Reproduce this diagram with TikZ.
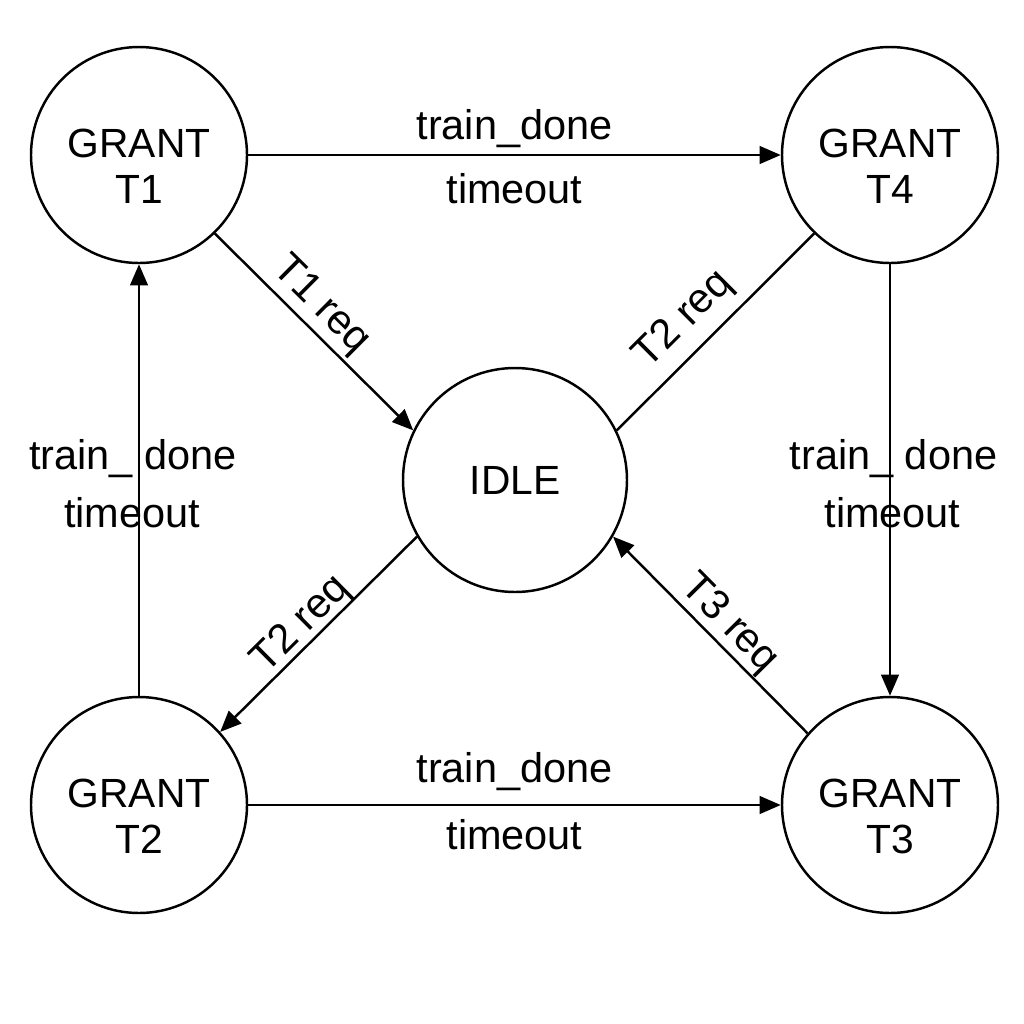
\documentclass[tikz,border=0pt]{standalone}
\usepackage{fontspec}
\setmainfont{Liberation Sans}
\usetikzlibrary{arrows.meta}
\usetikzlibrary{calc}

\begin{document}
\begin{tikzpicture}[x=1cm,y=1cm,
    state/.style={circle,draw,line width=0.7pt,minimum size=2.16cm,inner sep=0pt,align=center,font=\fontsize{11.6}{13.1}\selectfont},
    grant/.style={state,text height=27.4pt,text depth=0pt},
    trans/.style={line width=0.7pt,-{Triangle[length=6pt,width=5pt]}},
    lbl/.style={font=\fontsize{11.8}{13.4}\selectfont}]

    \useasboundingbox (0,0) rectangle (10.24,-10.24);

    \node[grant] (t1) at (1.39,-1.55) {GRANT\\T1};
    \node[grant] (t4) at (8.90,-1.55) {GRANT\\T4};
    \node[state,minimum size=2.24cm] (idle) at (5.15,-4.80) {IDLE};
    \node[grant] (t2) at (1.39,-8.05) {GRANT\\T2};
    \node[grant] (t3) at (8.90,-8.05) {GRANT\\T3};

    \draw[trans] (t1) -- (t4)
        node[lbl,midway,above=-1.5pt] {train\_done}
        node[lbl,midway,below=1.5pt] {timeout};
    \draw[trans] (t2) -- (t3)
        node[lbl,midway,above=0.5pt] {train\_done}
        node[lbl,midway,below=0.3pt] {timeout};
    \draw[trans] (t4) -- (t3)
        node[lbl,midway,yshift=0.21cm,xshift=0.035cm] {train\_ done}
        node[lbl,midway,yshift=-0.33cm,xshift=0.025cm] {timeout};
    \draw[trans] (t2) -- (t1)
        node[lbl,midway,yshift=0.21cm,xshift=-0.06cm] {train\_ done}
        node[lbl,midway,yshift=-0.33cm,xshift=-0.07cm] {timeout};

    \draw[trans] (t1.314) -- (idle.154) node[lbl,pos=0.45,sloped,above=-2.3pt] {T1 req};
    \draw[line width=0.7pt] (t4.226) -- (idle.26) node[lbl,pos=0.55,sloped,above=-0.3pt] {T2 req};
    \draw[trans] (idle.210) -- (t2.42) node[lbl,pos=0.52,sloped,above=-3.7pt] {T2 req};
    \draw[trans] (t3.139) -- (idle.330) node[lbl,pos=0.48,sloped,above=-3pt] {T3 req};
\end{tikzpicture}
\end{document}
